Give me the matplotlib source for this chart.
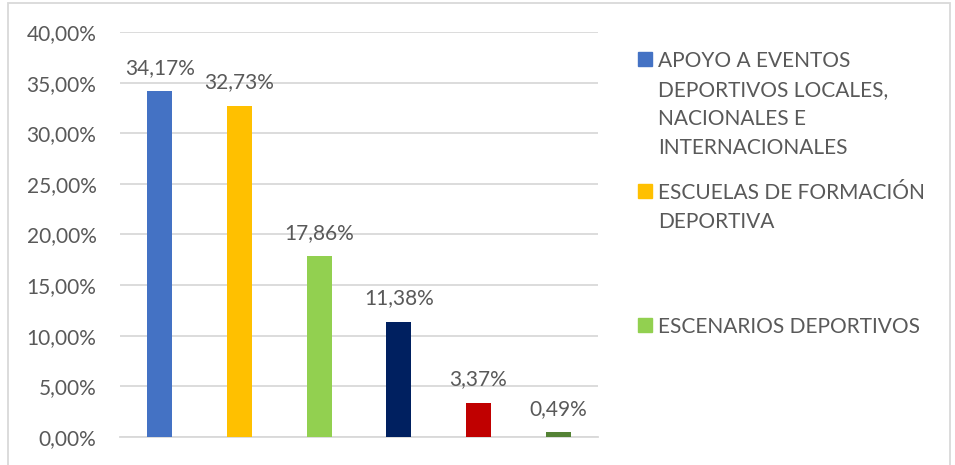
"""Recreate bar chart: distribución porcentual de apoyos deportivos."""
import matplotlib
matplotlib.use("Agg")
import matplotlib.pyplot as plt
from matplotlib.patches import Rectangle

# data
categories = [
    "APOYO A EVENTOS DEPORTIVOS LOCALES, NACIONALES E INTERNACIONALES",
    "ESCUELAS DE FORMACIÓN DEPORTIVA",
    "ESCENARIOS DEPORTIVOS",
    "CAT4", "CAT5", "CAT6",
]
legend_labels = [
    ["APOYO A EVENTOS", "DEPORTIVOS LOCALES,", "NACIONALES E", "INTERNACIONALES"],
    ["ESCUELAS DE FORMACIÓN", "DEPORTIVA"],
    ["ESCENARIOS DEPORTIVOS"],
]
values = [34.17, 32.73, 17.86, 11.38, 3.37, 0.49]
colors = ["#4472C4", "#FFC000", "#92D050", "#002060", "#C00000", "#548235"]
yticks = [0, 5, 10, 15, 20, 25, 30, 35, 40]

TXT = "#595959"
GRID = "#D9D9D9"
FS = 15
plt.rcParams["font.family"] = ["Lato", "DejaVu Sans"]

W, H = 955, 465
fig = plt.figure(figsize=(W / 100, H / 100), dpi=100)
ax = fig.add_axes([120 / W, 1 - 437 / H, (598 - 120) / W, (437 - 32) / H])

x = list(range(len(values)))
bars = ax.bar(x, values, width=0.31, color=colors, zorder=3)
for xi, v in zip(x, values):
    ax.annotate(f"{v:.2f}%".replace(".", ","), (xi, v), xytext=(0, 12.5),
                textcoords="offset points", ha="center", va="baseline",
                fontsize=FS, color=TXT)

ax.set_xlim(-0.5, len(values) - 0.5)
ax.set_ylim(0, 40)
ax.set_yticks(yticks)
ax.set_yticklabels([f"{t:.2f}%".replace(".", ",") for t in yticks],
                   fontsize=FS, color=TXT)
ax.set_xticks([])
ax.tick_params(axis="y", length=0, pad=17)
ax.grid(axis="y", color=GRID, linewidth=1.3, zorder=0)
for s in ["top", "right", "left"]:
    ax.spines[s].set_visible(False)
ax.spines["bottom"].set_color(GRID)
ax.spines["bottom"].set_linewidth(1.3)

# legend (manual, only first three entries); baselines of first lines in px
leg_base = [67, 199, 333]
line_step = 29
for lines, col, yb in zip(legend_labels, colors, leg_base):
    fig.patches.append(Rectangle((638 / W, 1 - (yb - 1) / H), 14 / W, 14 / H,
                                 transform=fig.transFigure, color=col))
    for i, ln in enumerate(lines):
        fig.text(658 / W, 1 - (yb + i * line_step) / H, ln, fontsize=FS,
                 color=TXT, va="baseline", ha="left")

# outer chart border
fig.patches.append(Rectangle((8 / W, -0.1), (950 - 8) / W, 1.1 - 3 / H,
                             transform=fig.transFigure, fill=False,
                             edgecolor=GRID, linewidth=1.3))

fig.savefig("out.png", dpi=100)
